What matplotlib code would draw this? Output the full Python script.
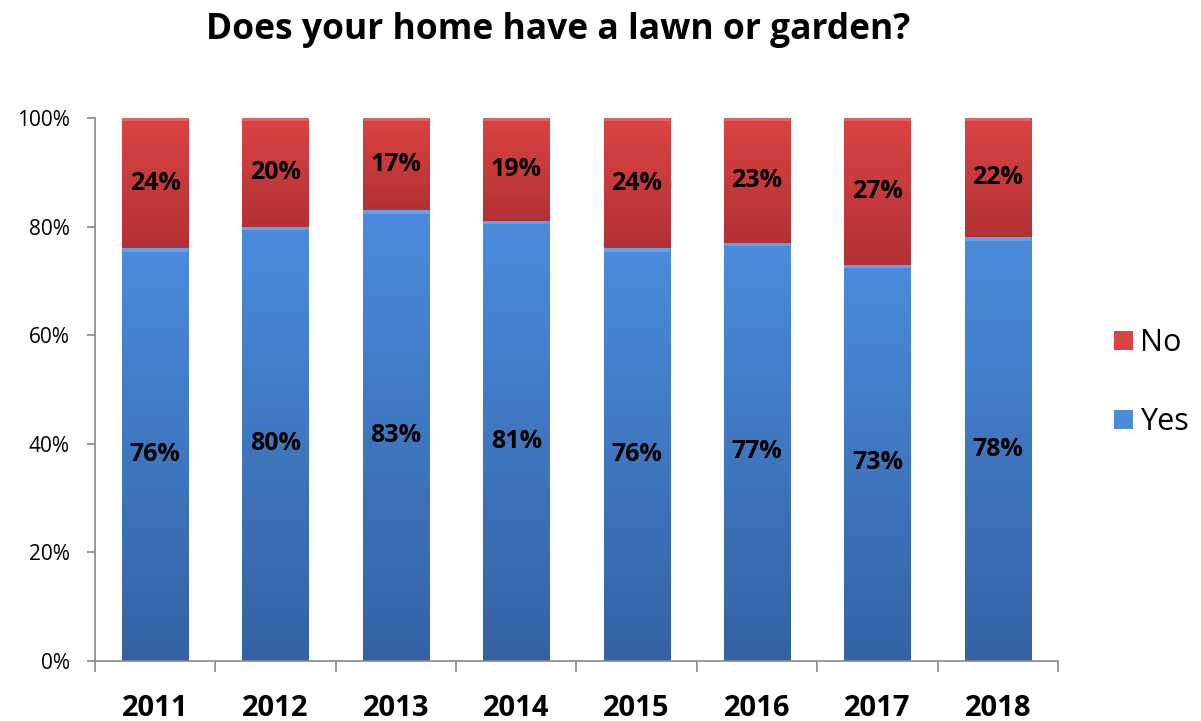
import matplotlib.pyplot as plt
import numpy as np
from matplotlib.colors import LinearSegmentedColormap
from matplotlib.patches import Patch

years = ['2011', '2012', '2013', '2014', '2015', '2016', '2017', '2018']
yes_pct = [76, 80, 83, 81, 76, 77, 73, 78]
no_pct = [24, 20, 17, 19, 24, 23, 27, 22]

# light -> dark shading for each series (top of segment to bottom)
yes_shades = ['#4a8cdb', '#3462a4']
no_shades = ['#db4343', '#b23134']

plt.rcParams['font.family'] = ['Open Sans', 'DejaVu Sans']

fig = plt.figure(figsize=(12.01, 7.21), dpi=100)
ax = fig.add_axes([0.079, 0.0832, 0.802, 0.7531])

x = np.arange(len(years))
width = 0.55
yes_bars = ax.bar(x, yes_pct, width, color=yes_shades[0], zorder=2)
no_bars = ax.bar(x, no_pct, width, bottom=yes_pct, color=no_shades[0], zorder=2)


def shade(bars, shades):
    cmap = LinearSegmentedColormap.from_list('s', shades[::-1])
    grad = np.linspace(0, 1, 256).reshape(-1, 1)
    for b in bars:
        x0, y0 = b.get_x(), b.get_y()
        w, h = b.get_width(), b.get_height()
        im = ax.imshow(grad, cmap=cmap, aspect='auto', origin='lower',
                       extent=[x0, x0 + w, y0, y0 + h], zorder=2.5)
        im.set_clip_path(b)
        # thin light band along the top edge
        ax.fill_between([x0, x0 + w], y0 + h - 0.6, y0 + h,
                        color='white', alpha=0.18, lw=0, zorder=2.6)


shade(yes_bars, yes_shades)
shade(no_bars, no_shades)

for i in range(len(years)):
    ax.text(x[i], yes_pct[i] / 2, f'{yes_pct[i]}%', ha='center', va='center',
            fontsize=18, fontweight='bold', color='black', zorder=3)
    ax.text(x[i], yes_pct[i] + no_pct[i] / 2, f'{no_pct[i]}%', ha='center',
            va='center', fontsize=18, fontweight='bold', color='black', zorder=3)

ax.set_xlim(-0.5, len(years) - 0.5)
ax.set_ylim(0, 100)
ax.set_yticks(range(0, 101, 20))
ax.set_yticklabels([f'{v}%' for v in range(0, 101, 20)], fontsize=15)
ax.set_xticks(x)
ax.set_xticklabels(years, fontsize=21, fontweight='bold')
ax.set_xticks(np.arange(-0.5, len(years)), minor=True)
ax.tick_params(axis='x', which='major', length=0, pad=24)
ax.tick_params(axis='x', which='minor', length=8, color='#888888', width=1.2,
               direction='out')
ax.tick_params(axis='y', length=6, color='#888888', width=1.2, pad=12)

for side in ['top', 'right']:
    ax.spines[side].set_visible(False)
for side in ['left', 'bottom']:
    ax.spines[side].set_color('#888888')
    ax.spines[side].set_linewidth(1.2)

fig.text(0.465, 0.958, 'Does your home have a lawn or garden?', ha='center',
         va='center', fontsize=25.5, fontweight='bold')

handles = [Patch(facecolor=no_shades[0], edgecolor='none', label='No'),
           Patch(facecolor=yes_shades[0], edgecolor='none', label='Yes')]
fig.legend(handles=handles, loc='center left', bbox_to_anchor=(0.905, 0.469),
           frameon=False, fontsize=22, handlelength=0.6, handleheight=0.6,
           handletextpad=0.25, labelspacing=1.6)

fig.savefig('out.png', dpi=100)
